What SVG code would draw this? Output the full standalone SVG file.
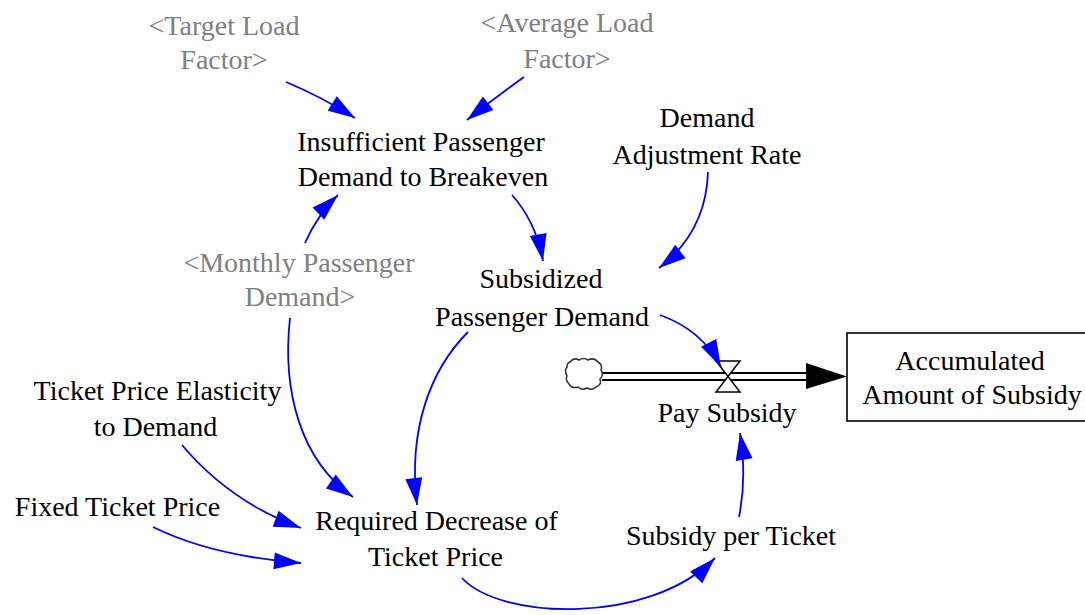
<svg xmlns="http://www.w3.org/2000/svg" width="1085" height="615" viewBox="0 0 1085 615">
  <style>
    .link { fill: none; stroke: #0000ff; stroke-width: 1.8; marker-end: url(#blueHead); }
    .pipe { fill: none; stroke: #000; stroke-width: 1.8; }
    .stock { fill: #fff; stroke: #000; stroke-width: 1.6; }
    .valve { fill: #fff; stroke: #000; stroke-width: 1.5; }
    .cloud { fill: #fff; stroke: #333; stroke-width: 1.5; }
    .ghost { fill: #808080; }
  </style>
  <defs>
    <marker id="blueHead" markerUnits="userSpaceOnUse" markerWidth="28" markerHeight="18" refX="27" refY="8.5" orient="auto" overflow="visible">
      <path d="M0,0 L27,8.5 L0,17 Z" fill="#0000ff"/>
    </marker>
  </defs>
  <rect width="1085" height="615" fill="#fff"/>

  <!-- flow pipe, valve and source cloud -->
  <g id="flow-pay-subsidy">
    <line class="pipe" x1="602" y1="373" x2="808" y2="373"/>
    <line class="pipe" x1="602" y1="380" x2="808" y2="380"/>
    <path d="M806,363 L847,376.5 L806,389 Z" fill="#000"/>
    <path class="valve" d="M716,361 L740,361 L716,392 L740,392 Z"/>
  </g>
  <g id="cloud-source">
    <path class="cloud" d="M570,362 q4,-5 9,-2 q5,-3 9,0 q6,-3 10,2 q5,3 3,8 q3,5 -1,9 q2,6 -4,8 q-4,4 -9,1 q-5,3 -9,-1 q-6,2 -9,-3 q-4,-4 -2,-8 q-3,-5 0,-9 q0,-4 3,-5 Z"/>
  </g>
  <g id="stock-accumulated-subsidy">
    <rect class="stock" x="847" y="333" width="250" height="88"/>
  </g>

  <!-- variable names -->
  <g font-family="Liberation Serif, Times New Roman, serif" font-size="28" text-anchor="middle" fill="#000">
    <g id="pay-subsidy-label">
      <text x="727" y="422">Pay Subsidy</text>
    </g>
    <g id="stock-label">
      <text x="970" y="370">Accumulated</text>
      <text x="972" y="404">Amount of Subsidy</text>
    </g>
    <g id="target-load-factor" class="ghost">
      <text x="224" y="35">&lt;Target Load</text>
      <text x="224" y="69">Factor&gt;</text>
    </g>
    <g id="average-load-factor" class="ghost">
      <text x="567" y="31.5">&lt;Average Load</text>
      <text x="567" y="67.5">Factor&gt;</text>
    </g>
    <g id="insufficient-demand">
      <text x="421" y="151">Insufficient Passenger</text>
      <text x="423" y="186">Demand to Breakeven</text>
    </g>
    <g id="demand-adjustment-rate">
      <text x="707" y="126.5">Demand</text>
      <text x="707" y="164">Adjustment Rate</text>
    </g>
    <g id="subsidized-demand">
      <text x="541" y="288">Subsidized</text>
      <text x="542" y="325.5">Passenger Demand</text>
    </g>
    <g id="monthly-passenger-demand" class="ghost">
      <text x="299" y="272">&lt;Monthly Passenger</text>
      <text x="300" y="306">Demand&gt;</text>
    </g>
    <g id="price-elasticity">
      <text x="157.5" y="400">Ticket Price Elasticity</text>
      <text x="155.5" y="436">to Demand</text>
    </g>
    <g id="fixed-ticket-price">
      <text x="117.5" y="515.5">Fixed Ticket Price</text>
    </g>
    <g id="required-decrease">
      <text x="436.5" y="530">Required Decrease of</text>
      <text x="435.5" y="566">Ticket Price</text>
    </g>
    <g id="subsidy-per-ticket">
      <text x="731" y="545">Subsidy per Ticket</text>
    </g>
  </g>

  <!-- causal links -->
  <g id="connectors">
    <path class="link" d="M286,82 Q322,97 355,118"/>
    <path class="link" d="M524,77 Q496,97 467,120"/>
    <path class="link" d="M305,243 Q318,214 338,195"/>
    <path class="link" d="M512,195 Q536,222 543,261"/>
    <path class="link" d="M708,172 Q706,232 659,268"/>
    <path class="link" d="M660,315 Q702,330 721,367"/>
    <path class="link" d="M468,332 C430,370 408,430 417,505"/>
    <path class="link" d="M290,318 C282,390 300,460 353,497"/>
    <path class="link" d="M182,445 Q230,502 301,528"/>
    <path class="link" d="M153,527 Q212,556 301,563"/>
    <path class="link" d="M462,578 C500,620 650,625 715,558"/>
    <path class="link" d="M739,517 Q747,478 740,433"/>
  </g>
</svg>
